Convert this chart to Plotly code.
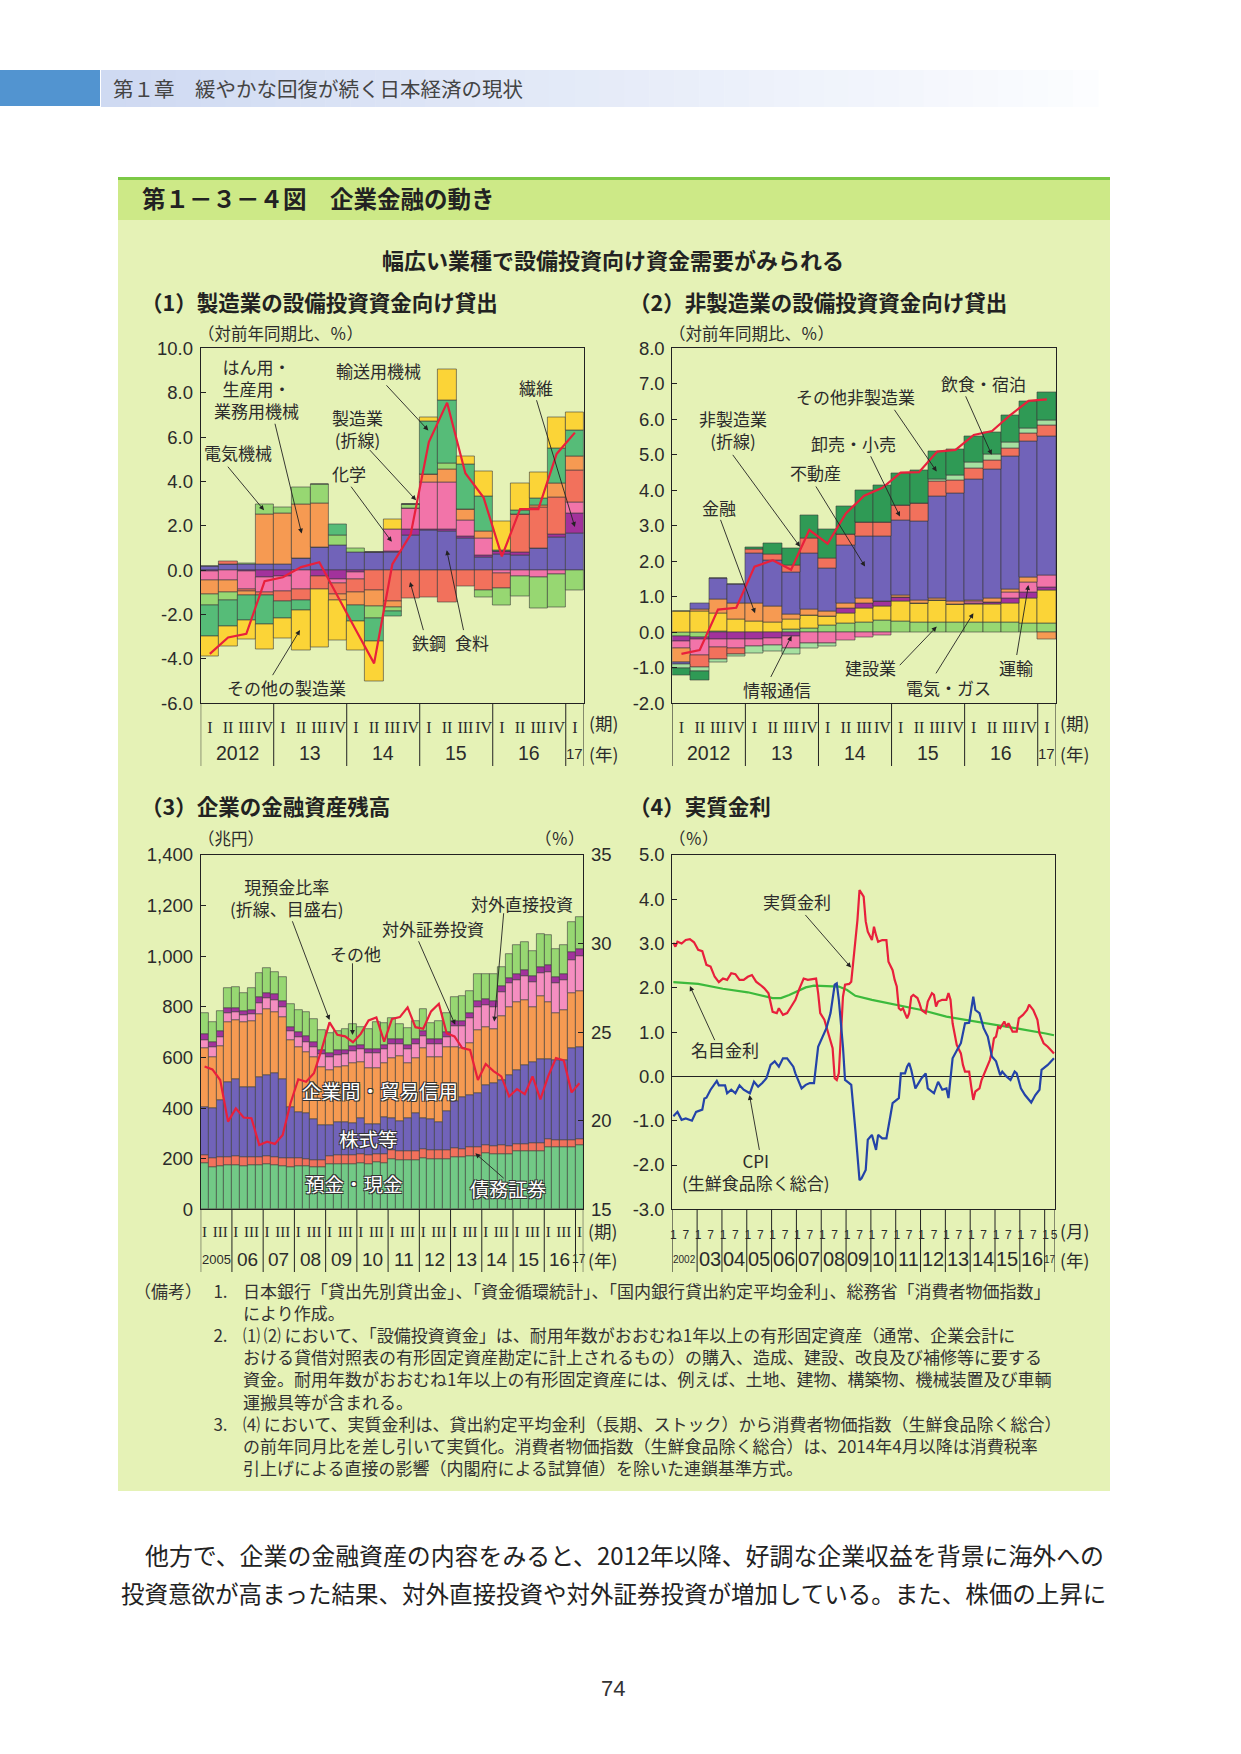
"""第1-3-4図 企業金融の動き — page recreation with Plotly."""

import plotly.graph_objects as go

W, H = 1241, 1754
JP = 'Noto Sans CJK JP'
NUM = 'Liberation Sans, Arial'
SERIF = 'Liberation Serif, serif'
INK = '#2b2b2b'


def fx(px):
    return px / W


def fy(py):
    return 1 - py / H


# ---------------- (1) 製造業 (2012Q1-2017Q1) ----------------
quarters_21 = list(range(21))
quarter_text_21 = ['I', 'II', 'III', 'IV'] * 5 + ['I']
years_12_17 = ['2012', '13', '14', '15', '16', '17']

mfg_food = [0.18, 0.25, 0.25, 0.25, 0.27, 0.54, 1.04, 1.13, 0.81, 0.81, 0.81,
            1.55, 1.79, 1.74, 1.44, 0.59, 0.72, 0.69, 0.99, 1.49, 1.65]
mfg_textile = [-0.05, 0, -0.05, -0.3, -0.28, 0, -0.28, -0.43, -0.1, 0, 0.05,
               0.27, 0.07, 0.08, 0.1, 0.07, 0.12, 0.12, 0, 0.13, 0.92]
mfg_chem = [-0.4, -0.45, -0.8, -0.7, -0.68, -0.84, 0, -0.15, -0.3, 0, 1.0,
            0.98, 2.09, 2.16, 0.69, 0.78, -0.13, -0.28, -0.32, -0.18, 0.48]
mfg_steel = [0, 0.15, -0.1, -0.15, -0.45, -0.53, -0.6, -0.5, -0.6, -0.89, -1.41,
             -1.26, -1.22, -1.47, -0.74, -0.92, -0.68, 1.73, 1.85, 1.67, 1.44]
mfg_general = [-0.65, -0.55, -0.2, 2.25, 2.3, 2.43, 1.98, -0.3, -0.6, -0.75, -0.27,
               0, 0.35, 0.57, 0.51, 0.3, 0, 0, 0.07, 0.63, 0.63]
mfg_electric = [-0.5, -0.35, 0.05, 0.45, 0.27, 0.77, 0.86, 0.45, 0.18, -0.53, -0.18,
                0.18, 0, 0.27, 0, -0.3, -0.78, -0.9, -1.4, -1.49, -0.92]
mfg_transport = [-1.4, -1.2, -1.1, -1.3, -0.75, -0.45, 0, 0.5, -0.7, -1.02, -0.22,
                 0, 2.43, 2.82, 2.03, 1.58, 0.07, 0.18, 0.33, 1.58, 1.17]
mfg_other = [-0.9, -0.9, -0.85, -1.1, -0.93, -1.77, -2.58, -1.77, -1.3, -1.8, 0.45,
             0, 0.18, 1.41, 0.35, 1.14, 1.28, 1.2, 1.17, 1.38, 0.81]
mfg_total = [-3.77, -3.03, -2.87, -0.5, -0.32, 0.14, 0.36, -1.2, -2.7, -4.2, 0.27,
             1.6, 5.77, 7.55, 4.37, 3.27, 0.62, 2.75, 2.75, 5.24, 6.2]

# ---------------- (2) 非製造業 ----------------
nm_construction = [-0.1, -0.14, 0.02, 0, 0, 0, 0.09, 0.11, 0.19, 0.25, 0.28,
                   0.33, 0.3, 0.28, 0.28, 0.28, 0.28, 0.28, 0.28, 0.25, 0.25]
nm_utility = [0.58, 0.6, 0.52, 0.38, 0.31, 0.28, 0.27, 0.38, 0.25, 0.28, 0.39,
              0.41, 0.56, 0.55, 0.61, 0.52, 0.5, 0.51, 0.55, 0.72, 0.92]
nm_info = [-0.16, -0.05, -0.2, -0.2, -0.2, -0.17, -0.12, 0, 0, 0.16, 0.14,
           0.12, 0.14, 0, 0, 0, 0.03, 0.06, 0.14, 0.15, 0.11]
nm_transport = [-0.2, -0.45, -0.23, -0.25, -0.2, -0.19, -0.33, -0.31, -0.31, -0.22, -0.14,
                -0.08, 0, 0, 0, 0, 0.05, 0, 0.15, 0.3, 0.33]
nm_finance = [-0.38, 0.05, 0.39, 0.44, 0.5, 0.46, 0.14, 0.16, 0.16, 0.14, 0.16,
              0, 0.05, 0.06, 0.08, 0.07, 0.04, 0.11, 0.08, 0.14, -0.19]
nm_realestate = [-0.07, 0.18, 0.59, 0.54, 1.42, 1.3, 1.18, 1.58, 1.2, 1.62, 1.74,
                 1.85, 2.11, 2.25, 2.85, 3.05, 3.41, 3.64, 3.77, 3.82, 3.92]
nm_retail = [0, -0.35, -0.33, -0.17, 0.1, 0.16, 0.21, 0.42, 0.28, 0.31, 0.4,
             0.38, 0.42, 0.49, 0.42, 0.36, 0.3, 0.25, 0.21, 0.23, 0.31]
nm_hotel = [-0.1, -0.12, -0.09, -0.07, -0.2, -0.17, -0.17, -0.14, -0.09, 0, 0,
            0, 0, 0, 0.08, 0.14, 0.17, 0.16, 0.16, 0.14, 0.14]
nm_other = [-0.2, -0.23, 0, 0, 0.07, 0.31, 0.49, 0.65, 0.82, 0.78, 0.88,
            1.04, 0.9, 0.93, 0.79, 0.74, 0.75, 0.62, 0.76, 0.75, 0.78]
nm_total = [-0.61, -0.5, 0.64, 0.69, 1.85, 2.03, 1.76, 2.88, 2.5, 3.35, 3.85,
            4.07, 4.5, 4.51, 5.09, 5.14, 5.56, 5.67, 6.12, 6.52, 6.56]

# ---------------- (3) 企業の金融資産残高 (2005Q1-2017Q1, 兆円) ----------------
quarters_49 = list(range(49))
years_05_17 = ['2005', '06', '07', '08', '09', '10', '11', '12', '13', '14', '15', '16', '17']
fa_cash = [182, 169, 173, 175, 175, 173, 175, 175, 179, 175, 171, 169, 171, 170, 168, 168,
           180, 178, 180, 178, 182, 180, 185, 182, 200, 195, 196, 196, 202, 198, 200, 198,
           208, 205, 210, 210, 222, 218, 220, 218, 230, 230, 232, 232, 248, 245, 245, 245, 256]
fa_debt = [33, 33, 33, 33, 36, 33, 30, 30, 32, 32, 30, 33, 30, 30, 28, 28,
           32, 35, 35, 35, 35, 35, 35, 35, 35, 35, 35, 35, 35, 35, 35, 35,
           35, 35, 35, 35, 33, 33, 33, 33, 30, 30, 30, 30, 28, 28, 28, 28, 22]
fa_equity = [191, 197, 226, 297, 303, 276, 280, 317, 320, 333, 313, 204, 184, 180, 159, 139,
             123, 132, 130, 127, 143, 123, 118, 148, 125, 120, 129, 149, 123, 122, 110, 157,
             183, 203, 207, 213, 236, 250, 256, 280, 291, 310, 322, 331, 317, 317, 317, 363, 365]
fa_trade = [230, 204, 214, 234, 234, 260, 261, 250, 259, 241, 245, 263, 258, 243, 248, 229,
            216, 219, 222, 240, 224, 219, 222, 215, 237, 256, 220, 217, 276, 248, 256, 253,
            217, 193, 204, 251, 231, 210, 253, 270, 270, 257, 217, 248, 228, 187, 198, 218, 221]
fa_fdi = [33, 40, 34, 36, 33, 26, 25, 42, 44, 46, 42, 36, 39, 40, 37, 49,
          49, 46, 46, 46, 48, 60, 57, 52, 56, 47, 52, 56, 49, 50, 52, 39,
          82, 89, 99, 92, 86, 90, 98, 92, 85, 93, 96, 92, 118, 116, 118, 132, 135]
fa_portfolio = [22, 20, 26, 22, 16, 17, 17, 26, 22, 24, 22, 17, 20, 20, 20, 18,
                18, 18, 18, 18, 18, 18, 18, 18, 18, 18, 18, 18, 20, 20, 20, 20,
                20, 20, 22, 22, 22, 22, 22, 22, 25, 25, 25, 25, 25, 25, 25, 30, 30]
fa_other = [84, 79, 78, 76, 83, 69, 85, 93, 97, 86, 93, 88, 86, 96, 91, 78,
            78, 78, 80, 87, 72, 76, 104, 88, 84, 62, 65, 75, 85, 62, 71, 75,
            93, 98, 87, 106, 99, 106, 77, 93, 114, 110, 100, 129, 119, 112, 112, 118, 125]
cash_ratio = [23.06, 22.9, 22.3, 19.95, 20.7, 20.18, 20.14, 18.63, 18.82, 18.69, 19.2, 20.99,
              22.34, 22.2, 22.68, 24.04, 25.55, 24.85, 24.76, 24.43, 24.9, 25.66, 25.83, 24.47,
              25.75, 25.85, 26.4, 25.28, 25.19, 26.17, 26.6, 24.94, 24.76, 24.1, 24.0, 22.3,
              23.2, 22.8, 22.5, 21.37, 21.78, 21.5, 22.5, 21.21, 22.5, 23.53, 23.4, 21.6, 22.12]

# ---------------- (4) 実質金利 (months since 2002-01) ----------------
years_02_17 = ['2002', '03', '04', '05', '06', '07', '08', '09', '10', '11',
               '12', '13', '14', '15', '16', '17']
nominal_m = [0, 12, 24, 36, 48, 52, 56, 60, 64, 68, 72, 76, 80, 84, 88, 96,
             108, 120, 132, 144, 156, 168, 180, 184]
nominal = [2.13, 2.09, 1.98, 1.9, 1.77, 1.77, 1.84, 1.92, 2.01, 2.05, 2.04, 2.03,
           2.03, 1.95, 1.82, 1.73, 1.61, 1.5, 1.35, 1.26, 1.16, 1.07, 0.97, 0.93]
cpi_m = [0, 2, 4, 6, 9, 11, 14, 15, 16, 18, 21, 22, 25, 26, 28, 30, 32, 34, 37, 39,
         41, 43, 45, 47, 49, 51, 53, 55, 58, 59, 62, 64, 66, 68, 70, 73, 74, 76, 78, 79,
         80, 82, 83, 85, 86, 88, 90, 91, 93, 94, 96, 98, 99, 101, 103, 105, 106, 109, 110, 112,
         113, 114, 115, 117, 118, 120, 122, 123, 126, 128, 130, 132, 133, 135, 138, 139, 141, 143,
         145, 146, 148, 150, 152, 154, 156, 158, 159, 161, 163, 165, 166, 168, 170, 173, 175, 177,
         178, 181, 184]
cpi = [-0.9, -0.8, -0.98, -0.95, -1.0, -0.8, -0.75, -0.5, -0.48, -0.3, -0.1, -0.2, -0.2, -0.38,
       -0.3, -0.38, -0.2, -0.3, -0.38, -0.12, -0.23, -0.15, -0.04, 0.26, 0.34, 0.22, 0.41, 0.41,
       0.22, 0.07, -0.27, -0.19, -0.15, -0.15, 0.67, 0.97, 1.09, 1.43, 2.07, 2.1,
       1.73, 0.67, -0.08, -0.15, -0.19, -1.21, -2.34, -2.3, -2.11, -1.43, -1.32, -1.66, -1.32, -1.4,
       -1.4, -0.87, -0.6, -0.49, 0.07, 0.07, 0.22, 0.3, 0.15, -0.27, -0.19, -0.04, 0.07, -0.27,
       -0.38, -0.12, -0.3, -0.27, -0.49, 0.41, 0.67, 0.75, 1.2, 1.21, 1.8, 1.5, 1.43, 1.09, 0.9,
       0.45, 0.34, 0.03, 0.11, 0.0, -0.08, 0.11, 0.07, -0.27, -0.42, -0.59, -0.42, -0.3,
       0.15, 0.26, 0.41]
real_m = [0, 1, 2, 4, 6, 8, 10, 12, 14, 16, 18, 20, 22, 24, 26, 28, 30, 32, 34, 36, 38, 40,
          42, 44, 46, 48, 50, 51, 53, 55, 57, 59, 61, 63, 65, 67, 69, 70, 71, 73, 75, 77, 78,
          79, 80, 81, 82, 83, 85, 86, 88, 89, 90, 91, 92, 93, 94, 96, 97, 98, 99, 101, 103,
          104, 106, 107, 108, 109, 110, 111, 113, 114, 115, 116, 118, 119, 120, 122, 123, 125,
          126, 127, 128, 130, 132, 133, 134, 135, 137, 139, 140, 141, 143, 144, 145, 146, 148,
          149, 151, 153, 154, 155, 156, 157, 158, 160, 161, 162, 164, 166, 167, 169, 171, 172,
          174, 175, 176, 177, 179, 181, 184]
real = [3.02, 2.93, 3.04, 3.0, 3.08, 3.1, 3.03, 2.86, 2.83, 2.52, 2.48, 2.25, 2.13, 2.21,
        2.18, 2.33, 2.31, 2.18, 2.18, 2.25, 2.29, 2.14, 2.07, 1.99, 1.88, 1.46, 1.43, 1.54,
        1.39, 1.43, 1.58, 1.73, 1.99, 2.21, 2.18, 2.19, 2.21, 1.88, 1.43, 1.28, 0.97, 0.64,
        -0.04, -0.08, 0.07, 0.82, 1.8, 2.07, 2.09, 2.14, 3.08, 3.53, 4.21, 4.14, 4.06, 3.5,
        3.27, 3.08, 3.38, 3.19, 3.04, 3.08, 3.08, 2.59, 2.4, 2.18, 2.03, 1.54, 1.5, 1.54, 1.31,
        1.43, 1.8, 1.84, 1.77, 1.65, 1.5, 1.43, 1.69, 1.88, 1.84, 1.58, 1.69, 1.73, 1.73, 1.88,
        1.73, 1.2, 0.71, 0.52, 0.26, 0.11, 0.11, -0.23, -0.53, -0.34, -0.27, -0.08, 0.15, 0.37,
        0.56, 0.86, 0.9, 1.12, 1.09, 1.24, 1.12, 1.2, 1.01, 1.01, 1.31, 1.39, 1.5, 1.62, 1.5,
        1.39, 1.28, 0.97, 0.75, 0.67, 0.52]
month_ticks = [12 * k + d for k in range(15) for d in (0, 6)] + [180, 184]
month_text = ['1', '7'] * 15 + ['1', '5']

# y tick labels (hyphen minus as printed)
y1_ticks = [-6, -4, -2, 0, 2, 4, 6, 8, 10]
y1_text = ['-6.0', '-4.0', '-2.0', '0.0', '2.0', '4.0', '6.0', '8.0', '10.0']
y2_ticks = [-2, -1, 0, 1, 2, 3, 4, 5, 6, 7, 8]
y2_text = ['-2.0', '-1.0', '0.0', '1.0', '2.0', '3.0', '4.0', '5.0', '6.0', '7.0', '8.0']
y3_ticks = [0, 200, 400, 600, 800, 1000, 1200, 1400]
y3_text = ['0', '200', '400', '600', '800', '1,000', '1,200', '1,400']
y5_ticks = [15, 20, 25, 30, 35]
y5_text = ['15', '20', '25', '30', '35']
y4_ticks = [-3, -2, -1, 0, 1, 2, 3, 4, 5]
y4_text = ['-3.0', '-2.0', '-1.0', '0.0', '1.0', '2.0', '3.0', '4.0', '5.0']

# notes block (number column and text column share the same line grid)
note_numbers = ['1.', '　', '2.', '　', '　', '　', '3.', '　', '　']
note_lines = [
    '日本銀行「貸出先別貸出金」、「資金循環統計」、「国内銀行貸出約定平均金利」、総務省「消費者物価指数」',
    'により作成。',
    '⑴ ⑵ において、「設備投資資金」は、耐用年数がおおむね1年以上の有形固定資産（通常、企業会計に',
    'おける貸借対照表の有形固定資産勘定に計上されるもの）の購入、造成、建設、改良及び補修等に要する',
    '資金。耐用年数がおおむね1年以上の有形固定資産には、例えば、土地、建物、構築物、機械装置及び車輌',
    '運搬具等が含まれる。',
    '⑷ において、実質金利は、貸出約定平均金利（長期、ストック）から消費者物価指数（生鮮食品除く総合）',
    'の前年同月比を差し引いて実質化。消費者物価指数（生鮮食品除く総合）は、2014年4月以降は消費税率',
    '引上げによる直接の影響（内閣府による試算値）を除いた連鎖基準方式。',
]

C = dict(food='#7163b9', textile='#a2329c', chem='#f274a9', steel='#f2715c',
         orange='#f69a52', lgreen='#97d772', mgreen='#56bc78', yellow='#fbd437',
         dgreen='#2f9a55', mint='#a6e0a0', red='#e8203c', blue='#2443a8', green='#3cba3c')

fig = go.Figure()
EDGE = dict(color='#3a3a3a', width=0.6)


def add_bars(series, xa, ya, xs):
    for vals, col in series:
        fig.add_trace(go.Bar(x=xs, y=vals, marker=dict(color=col, line=EDGE),
                             xaxis=xa, yaxis=ya, width=1, showlegend=False))


add_bars([(mfg_food, C['food']), (mfg_textile, C['textile']), (mfg_chem, C['chem']),
          (mfg_steel, C['steel']), (mfg_general, C['orange']), (mfg_electric, C['lgreen']),
          (mfg_transport, C['mgreen']), (mfg_other, C['yellow'])], 'x', 'y', quarters_21)
fig.add_trace(go.Scatter(x=quarters_21, y=mfg_total, mode='lines', xaxis='x', yaxis='y',
                         line=dict(color=C['red'], width=2.2), showlegend=False))

add_bars([(nm_construction, C['lgreen']), (nm_utility, C['yellow']), (nm_info, C['textile']),
          (nm_transport, C['chem']), (nm_finance, C['orange']), (nm_realestate, C['food']),
          (nm_retail, C['steel']), (nm_hotel, C['mint']), (nm_other, C['dgreen'])],
         'x2', 'y2', quarters_21)
fig.add_trace(go.Scatter(x=quarters_21, y=nm_total, mode='lines', xaxis='x2', yaxis='y2',
                         line=dict(color=C['red'], width=2.2), showlegend=False))

add_bars([(fa_cash, '#72c986'), (fa_debt, C['steel']), (fa_equity, C['food']),
          (fa_trade, C['orange']), (fa_fdi, '#f58ec0'), (fa_portfolio, C['textile']),
          (fa_other, C['lgreen'])], 'x3', 'y3', quarters_49)
fig.add_trace(go.Scatter(x=quarters_49, y=cash_ratio, mode='lines', xaxis='x3', yaxis='y5',
                         line=dict(color=C['red'], width=2.2), showlegend=False))

fig.add_trace(go.Scatter(x=nominal_m, y=nominal, mode='lines', xaxis='x4', yaxis='y4',
                         line=dict(color=C['green'], width=2.2), showlegend=False))
fig.add_trace(go.Scatter(x=real_m, y=real, mode='lines', xaxis='x4', yaxis='y4',
                         line=dict(color=C['red'], width=2.2), showlegend=False))
fig.add_trace(go.Scatter(x=cpi_m, y=cpi, mode='lines', xaxis='x4', yaxis='y4',
                         line=dict(color=C['blue'], width=2.2), showlegend=False))

# ---------------- axes ----------------
P1 = (200.7, 584.0, 348.3, 703.3)
P2 = (672.3, 1056.0, 348.3, 703.3)
P3 = (200.7, 583.3, 855.0, 1209.3)
P4 = (672.3, 1055.0, 855.0, 1209.3)


def xax(box, rng, tickvals, ticktext, size, standoff, anchor, font=SERIF):
    return dict(domain=[fx(box[0]), fx(box[1])], range=rng, tickvals=tickvals,
                ticktext=ticktext, tickfont=dict(family=font, size=size, color=INK),
                tickangle=0, ticks='', showline=True, mirror=True, linecolor='#222',
                linewidth=1, showgrid=False, zeroline=False, ticklabelstandoff=standoff,
                anchor=anchor, automargin=False, fixedrange=True)


def yax(box, rng, tickvals, ticktext, anchor, zeroline=False):
    return dict(domain=[fy(box[3]), fy(box[2])], range=rng, tickvals=tickvals, ticktext=ticktext,
                tickfont=dict(family=NUM, size=18.5, color=INK), ticks='inside', ticklen=5,
                tickcolor='#222', showline=True, mirror=True, linecolor='#222', linewidth=1,
                showgrid=False, zeroline=zeroline, zerolinecolor='#222', zerolinewidth=1,
                anchor=anchor, ticklabelstandoff=3, automargin=False, fixedrange=True)


y5 = yax(P3, [15, 35], y5_ticks, y5_text, 'x3')
y5.update(overlaying='y3', side='right', mirror=False)
layout_axes = dict(
    xaxis=xax(P1, [-0.5, 20.5], quarters_21, quarter_text_21, 16, 9, 'y'),
    yaxis=yax(P1, [-6, 10], y1_ticks, y1_text, 'x'),
    xaxis2=xax(P2, [-0.5, 20.5], quarters_21, quarter_text_21, 16, 9, 'y2'),
    yaxis2=yax(P2, [-2, 8], y2_ticks, y2_text, 'x2'),
    xaxis3=xax(P3, [-0.5, 48.5], [4 * k + d for k in range(12) for d in (0, 2)] + [48],
               ['I', 'III'] * 12 + ['I'], 15, 9, 'y3'),
    yaxis3=yax(P3, [0, 1400], y3_ticks, y3_text, 'x3'),
    yaxis5=y5,
    xaxis4=xax(P4, [-0.5, 184.5], month_ticks, month_text, 12, 14, 'y4', font=NUM),
    yaxis4=yax(P4, [-3, 5], y4_ticks, y4_text, 'x4', zeroline=True),
)

shapes = []
ann = []

# page header
shapes.append(dict(type='rect', xref='paper', yref='paper', x0=0, x1=fx(100), y0=fy(106),
                   y1=fy(70), fillcolor='#5294d0', line=dict(width=0), layer='below'))
steps = 40
for i in range(steps):
    t = i / (steps - 1)
    r = int(207 + (252 - 207) * t)
    g = int(218 + (253 - 218) * t)
    b = int(242 + (255 - 242) * t)
    x0 = 101 + (1098 - 101) * i / steps
    x1 = 101 + (1098 - 101) * (i + 1) / steps + 0.5
    shapes.append(dict(type='rect', xref='paper', yref='paper', x0=fx(x0), x1=fx(x1),
                       y0=fy(107), y1=fy(70), fillcolor=f'rgb({r},{g},{b})',
                       line=dict(width=0), layer='below'))
ann.append(dict(text='第１章　緩やかな回復が続く日本経済の現状', x=fx(111), y=fy(88),
                font=dict(family=JP, size=20.5, color='#444')))

# green figure box
shapes.append(dict(type='rect', xref='paper', yref='paper', x0=fx(118), x1=fx(1110),
                   y0=fy(1491), y1=fy(177), fillcolor='#e5f2b6', line=dict(width=0), layer='below'))
shapes.append(dict(type='rect', xref='paper', yref='paper', x0=fx(118), x1=fx(1110),
                   y0=fy(220), y1=fy(177), fillcolor='#cde987', line=dict(width=0), layer='below'))
shapes.append(dict(type='rect', xref='paper', yref='paper', x0=fx(118), x1=fx(1110),
                   y0=fy(180), y1=fy(177), fillcolor='#7cc946', line=dict(width=0), layer='below'))
ann.append(dict(text='<b>第１－３－４図　企業金融の動き</b>', x=fx(140), y=fy(198),
                font=dict(family=JP, size=23.5, color='#222')))
ann.append(dict(text='<b>幅広い業種で設備投資向け資金需要がみられる</b>', x=fx(613), y=fy(259),
                xanchor='center', font=dict(family=JP, size=22, color='#222')))

# panel titles and unit labels
for txt, x, y in [('（1）製造業の設備投資資金向け貸出', 139, 302),
                  ('（2）非製造業の設備投資資金向け貸出', 627, 302),
                  ('（3）企業の金融資産残高', 139, 805),
                  ('（4）実質金利', 627, 805)]:
    ann.append(dict(text=f'<b>{txt}</b>', x=fx(x), y=fy(y), font=dict(family=JP, size=21.5, color='#222')))
for txt, x, y, xa in [('（対前年同期比、％）', 196, 333, 'left'), ('（対前年同期比、％）', 667, 333, 'left'),
                      ('（兆円）', 196, 838, 'left'), ('（％）', 587, 838, 'right'),
                      ('（％）', 667, 838, 'left')]:
    ann.append(dict(text=txt, x=fx(x), y=fy(y), xanchor=xa, font=dict(family=JP, size=16.5, color=INK)))


# category boxes under the x axes
def year_boxes(xref, bounds, y_top, y_bot, labels, centers, sizes, y_lab, right_px, tags):
    for b in bounds:
        shapes.append(dict(type='line', xref=xref, yref='paper', x0=b, x1=b,
                           y0=fy(y_top), y1=fy(y_bot), line=dict(color='#222', width=1)))
    for lab, c, s in zip(labels, centers, sizes):
        ann.append(dict(text=lab, xref=xref, x=c, y=fy(y_lab), xanchor='center',
                        font=dict(family=NUM, size=s, color=INK)))
    for tag, ty in tags:
        ann.append(dict(text=tag, x=fx(right_px), y=fy(ty), font=dict(family=JP, size=17.5, color=INK)))


yb = [-0.5, 3.5, 7.5, 11.5, 15.5, 19.5, 20.5]
yc = [1.5, 5.5, 9.5, 13.5, 17.5, 20]
ys = [19.5, 19.5, 19.5, 19.5, 19.5, 15]
year_boxes('x', yb, 703.3, 766, years_12_17, yc, ys, 753, 587, [('(期)', 723), ('(年)', 753)])
year_boxes('x2', yb, 703.3, 766, years_12_17, yc, ys, 753, 1058, [('(期)', 723), ('(年)', 753)])
year_boxes('x3', [4 * k - 0.5 for k in range(13)] + [48.5], 1209.3, 1272, years_05_17,
           [4 * k + 1.5 for k in range(12)] + [48], [13] + [19] * 11 + [12], 1259, 586,
           [('(期)', 1230), ('(年)', 1259)])
year_boxes('x4', [12 * k - 0.5 for k in range(16)] + [184.5], 1209.3, 1272, years_02_17,
           [12 * k + 5.5 for k in range(15)] + [182], [10] + [20] * 14 + [10], 1259, 1058,
           [('(月)', 1230), ('(年)', 1259)])


def label(xr, yr, x, y, text, size=17, **font):
    ann.append(dict(text=text, xref=xr, yref=yr, x=x, y=y, xanchor='center',
                    font=dict(family=JP, size=size, color=font.get('color', INK),
                              shadow=font.get('shadow', 'none'))))


def arrow(xr, yr, tail, tip):
    ann.append(dict(text='', xref=xr, yref=yr, axref=xr, ayref=yr, x=tip[0], y=tip[1],
                    ax=tail[0], ay=tail[1], showarrow=True, arrowhead=2, arrowsize=1.1,
                    arrowwidth=0.9, arrowcolor='#222'))


# (1) callouts
label('x', 'y', 2.57, 8.2, 'はん用・<br>生産用・<br>業務用機械')
arrow('x', 'y', (3.57, 6.6), (5.03, 1.65))
label('x', 'y', 1.56, 5.29, '電気機械')
arrow('x', 'y', (0.92, 4.73), (2.97, 2.7))
label('x', 'y', 9.23, 9.0, '輸送用機械')
arrow('x', 'y', (9.6, 8.4), (11.97, 6.3))
label('x', 'y', 8.08, 6.4, '製造業<br>(折線)')
arrow('x', 'y', (8.69, 5.48), (11.3, 3.15))
label('x', 'y', 7.65, 4.35, '化学')
arrow('x', 'y', (7.68, 3.83), (9.97, 1.28))
label('x', 'y', 17.87, 8.23, '繊維')
arrow('x', 'y', (17.9, 7.66), (20.0, 1.95))
label('x', 'y', 12.01, -3.27, '鉄鋼')
arrow('x', 'y', (11.7, -2.7), (10.97, -0.53))
label('x', 'y', 14.39, -3.27, '食料')
arrow('x', 'y', (13.9, -2.7), (12.98, 0.9))
label('x', 'y', 4.21, -5.29, 'その他の製造業')
arrow('x', 'y', (3.39, -4.8), (4.94, -2.7))

# (2) callouts
label('x2', 'y2', 2.8, 5.7, '非製造業<br>(折線)')
arrow('x2', 'y2', (2.75, 5.04), (6.49, 2.41))
label('x2', 'y2', 2.07, 3.51, '金融')
arrow('x2', 'y2', (2.11, 3.21), (4.03, 0.54))
label('x2', 'y2', 7.35, 4.5, '不動産')
arrow('x2', 'y2', (7.31, 4.15), (10.05, 1.85))
label('x2', 'y2', 9.41, 5.32, '卸売・小売')
arrow('x2', 'y2', (10.32, 5.0), (11.96, 3.26))
label('x2', 'y2', 9.5, 6.64, 'その他非製造業')
arrow('x2', 'y2', (11.6, 6.31), (13.97, 4.53))
label('x2', 'y2', 16.53, 7.0, '飲食・宿泊')
arrow('x2', 'y2', (15.52, 6.69), (16.98, 5.0))
label('x2', 'y2', 5.21, -1.61, '情報通信')
arrow('x2', 'y2', (4.85, -1.3), (6.03, -0.1))
label('x2', 'y2', 10.32, -0.99, '建設業')
arrow('x2', 'y2', (11.87, -0.97), (13.97, 0.16))
label('x2', 'y2', 14.6, -1.55, '電気・ガス')
arrow('x2', 'y2', (13.88, -1.2), (15.98, 0.54))
label('x2', 'y2', 18.31, -0.99, '運輸')
arrow('x2', 'y2', (18.35, -0.64), (18.99, 1.33))

# (3) callouts
OUTLINE = '1px 1px 0 #333, -1px -1px 0 #333, 1px -1px 0 #333, -1px 1px 0 #333'
label('x3', 'y3', 10.53, 1232, '現預金比率<br>(折線、目盛右)')
arrow('x3', 'y3', (11.17, 1144), (16.0, 748))
label('x3', 'y3', 19.37, 1012, 'その他')
arrow('x3', 'y3', (18.94, 972), (18.94, 689))
label('x3', 'y3', 29.2, 1111, '対外証券投資')
arrow('x3', 'y3', (27.32, 1065), (32.1, 729))
label('x3', 'y3', 40.65, 1207, '対外直接投資')
arrow('x3', 'y3', (38.3, 1170), (37.1, 742))
label('x3', 'y3', 38.86, 83, '債務証券', size=19, color='white', shadow=OUTLINE)
arrow('x3', 'y3', (38.3, 123), (34.67, 221))
label('x3', 'y3', 22.4, 469, '企業間・貿易信用', size=19.5, color='white', shadow=OUTLINE)
label('x3', 'y3', 21.0, 281, '株式等', size=19.5, color='white', shadow=OUTLINE)
label('x3', 'y3', 19.07, 100, '預金・現金', size=19.5, color='white', shadow=OUTLINE)

# (4) callouts
label('x4', 'y4', 60, 3.95, '実質金利')
arrow('x4', 'y4', (63.2, 3.68), (85.9, 2.46))
label('x4', 'y4', 24.8, 0.6, '名目金利')
arrow('x4', 'y4', (20, 0.82), (8, 2.04))
label('x4', 'y4', 40.2, -2.14, 'CPI<br>(生鮮食品除く総合)')
arrow('x4', 'y4', (41.6, -1.66), (36.8, -0.42))

# notes: one text block per column so the lines share plotly's line grid
NOTE_FONT = dict(family=JP, size=17, color='#333')
NOTE_TOP = 1276
ann.append(dict(text='（備考）', x=fx(132), y=fy(NOTE_TOP), yanchor='top', font=NOTE_FONT))
ann.append(dict(text='<br>'.join(note_numbers), x=fx(210), y=fy(NOTE_TOP), yanchor='top',
                font=NOTE_FONT))
ann.append(dict(text='<br>'.join(note_lines), x=fx(241), y=fy(NOTE_TOP), yanchor='top',
                align='left', font=NOTE_FONT))

ann.append(dict(text='他方で、企業の金融資産の内容をみると、2012年以降、好調な企業収益を背景に海外への',
                x=fx(143), y=fy(1554), font=dict(family=JP, size=23.9, color='#222')))
ann.append(dict(text='投資意欲が高まった結果、対外直接投資や対外証券投資が増加している。また、株価の上昇に',
                x=fx(119), y=fy(1593), font=dict(family=JP, size=23.5, color='#222')))
ann.append(dict(text='74', x=fx(613), y=fy(1688), xanchor='center',
                font=dict(family=NUM, size=22, color='#333')))

for a in ann:
    a.setdefault('xref', 'paper')
    a.setdefault('yref', 'paper')
    a.setdefault('showarrow', False)
    a.setdefault('xanchor', 'left')
    a.setdefault('yanchor', 'middle')

fig.update_layout(
    width=W, height=H, margin=dict(l=0, r=0, t=0, b=0, pad=0), autosize=False,
    paper_bgcolor='white', plot_bgcolor='white',
    barmode='relative', bargap=0, showlegend=False,
    shapes=shapes, annotations=ann, **layout_axes,
)

# drop the default 8px body margin so the figure sits flush with the page
fig.write_html('out.html', config={'displayModeBar': False},
               post_script="document.body.style.margin='0';"
                           "document.documentElement.style.overflow='hidden';")
